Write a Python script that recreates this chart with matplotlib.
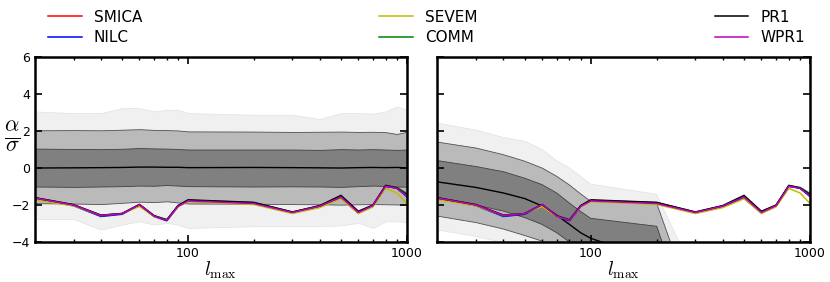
import matplotlib
matplotlib.use('Agg')
import matplotlib.pyplot as plt
from matplotlib.ticker import LogLocator, NullFormatter, FixedLocator, FuncFormatter

# l_max sampling
lmax = [20, 30, 40, 50, 60, 70, 80, 90, 100, 200, 300, 400, 500, 600, 700, 800, 900, 1000]

# alpha/sigma for each map
smica = [-1.63, -2.0, -2.55, -2.47, -1.98, -2.6, -2.83, -2.07, -1.78, -1.92, -2.4, -2.06, -1.57, -2.4, -2.03, -0.97, -1.1, -1.5]
nilc = [-1.64, -2.04, -2.62, -2.5, -1.99, -2.62, -2.85, -2.08, -1.79, -1.93, -2.42, -2.1, -1.62, -2.42, -2.05, -1.0, -1.08, -1.55]
sevem = [-1.72, -2.05, -2.57, -2.45, -2.08, -2.62, -2.8, -2.1, -1.82, -1.97, -2.46, -2.14, -1.66, -2.46, -2.1, -1.1, -1.35, -1.92]
comm = [-1.62, -2.0, -2.58, -2.47, -1.98, -2.58, -2.78, -2.05, -1.75, -1.87, -2.38, -2.05, -1.55, -2.36, -2.02, -0.95, -1.05, -1.38]
pr1 = [-1.6, -1.98, -2.55, -2.46, -1.97, -2.58, -2.82, -2.03, -1.72, -1.86, -2.38, -2.03, -1.48, -2.34, -2.0, -0.94, -1.08, -1.45]
wpr1 = [-1.62, -2.0, -2.56, -2.47, -1.98, -2.6, -2.83, -2.07, -1.78, -1.92, -2.4, -2.06, -1.57, -2.4, -2.03, -0.98, -1.1, -1.5]

series_names = ['SMICA', 'NILC', 'SEVEM', 'COMM', 'PR1', 'WPR1']
series_vals = [smica, nilc, sevem, comm, pr1, wpr1]
series_cols = ['r', 'b', 'y', 'g', 'k', 'm']

# simulation bands, left panel
l_out_hi = [3.06, 2.97, 2.97, 3.24, 3.24, 3.06, 3.15, 3.15, 2.97, 2.88, 2.88, 2.65, 2.97, 2.97, 2.94, 3.06, 3.33, 3.15]
l_mid_hi = [2.04, 2.05, 2.04, 2.07, 2.1, 2.06, 2.05, 2.03, 1.98, 1.97, 1.95, 1.96, 1.97, 1.95, 1.96, 1.94, 1.84, 1.96]
l_in_hi = [1.05, 1.03, 1.02, 1.04, 1.08, 1.06, 1.05, 1.03, 1.0, 1.0, 1.0, 0.98, 1.02, 1.0, 1.02, 1.0, 0.98, 1.0]
l_mean = [0.0, 0.01, 0.02, 0.03, 0.05, 0.05, 0.04, 0.04, 0.02, 0.03, 0.02, 0.01, 0.0, 0.02, 0.03, 0.02, 0.03, 0.01]
l_in_lo = [-1.0, -1.02, -1.0, -0.98, -0.95, -0.96, -0.92, -0.95, -0.98, -1.0, -0.99, -1.0, -1.02, -0.98, -0.95, -0.97, -1.0, -1.01]
l_mid_lo = [-1.9, -1.92, -1.95, -1.88, -1.82, -1.84, -1.8, -1.86, -1.92, -1.93, -1.95, -1.96, -1.98, -1.96, -1.95, -1.96, -1.97, -1.98]
l_out_lo = [-2.76, -2.76, -3.33, -3.06, -2.88, -3.06, -2.97, -3.06, -3.24, -3.15, -3.15, -3.15, -3.1, -2.97, -3.24, -2.88, -2.88, -2.94]

# simulation bands, right panel
r_out_hi = [2.43, 2.05, 1.65, 1.45, 1.0, 0.4, 0.0, -0.45, -0.87, -1.42, -5.9, -9.0, -11.0, -12.0, -13.0, -14.0, -15.0, -16.0]
r_mid_hi = [1.4, 1.08, 0.72, 0.37, 0.0, -0.45, -0.92, -1.4, -1.8, -1.92, -7.8, -10.5, -12.0, -13.0, -14.0, -15.0, -16.0, -17.0]
r_in_hi = [0.4, 0.08, -0.2, -0.55, -0.9, -1.35, -1.9, -2.35, -2.72, -3.15, -9.3, -11.5, -13.0, -14.0, -15.0, -16.0, -17.0, -18.0]
r_mean = [-0.75, -1.05, -1.35, -1.65, -2.05, -2.55, -3.05, -3.5, -3.8, -5.0, -11.0, -13.0, -14.0, -15.0, -16.0, -17.0, -18.0, -19.0]
r_in_lo = [-1.68, -2.0, -2.33, -2.68, -3.05, -3.5, -4.0, -4.5, -4.9, -6.8, -13.0, -14.5, -15.5, -16.5, -17.5, -18.5, -19.5, -20.5]
r_mid_lo = [-2.6, -2.95, -3.3, -3.65, -3.95, -4.4, -4.9, -5.4, -5.9, -8.0, -15.0, -16.0, -17.0, -18.0, -19.0, -20.0, -21.0, -22.0]
r_out_lo = [-3.35, -3.7, -4.05, -4.4, -4.8, -5.3, -5.8, -6.3, -6.8, -9.0, -16.0, -17.0, -18.0, -19.0, -20.0, -21.0, -22.0, -23.0]

plt.rcParams['mathtext.fontset'] = 'cm'


def panel(ax, out_hi, mid_hi, in_hi, mean, in_lo, mid_lo, out_lo, show_ylabels):
    ax.fill_between(lmax, out_lo, out_hi, facecolor='#f0f0f0', edgecolor='#e2e2e2', lw=0.5)
    ax.fill_between(lmax, mid_lo, mid_hi, facecolor='#bababa', edgecolor='#505050', lw=0.6)
    ax.fill_between(lmax, in_lo, in_hi, facecolor='#808080', edgecolor='#404040', lw=0.6)
    ax.plot(lmax, mean, color='k', lw=1.0)
    lines = []
    for name, vals, col in zip(series_names, series_vals, series_cols):
        ln, = ax.plot(lmax, vals, color=col, lw=1.1, label=name)
        lines.append(ln)
    ax.set_xscale('log')
    ax.set_xlim(20, 1000)
    ax.set_ylim(-4, 6)
    ax.yaxis.set_major_locator(FixedLocator([-4, -2, 0, 2, 4, 6]))
    ax.xaxis.set_major_locator(LogLocator(base=10))
    ax.xaxis.set_minor_locator(LogLocator(base=10, subs=range(2, 10)))
    ax.xaxis.set_minor_formatter(NullFormatter())
    ax.xaxis.set_major_formatter(FuncFormatter(lambda v, p: '%d' % v))
    ax.tick_params(which='both', direction='in', top=True, right=True, labelsize=9)
    ax.tick_params(which='major', length=5, width=1.2)
    ax.tick_params(which='minor', length=2.5, width=1.0)
    for sp in ax.spines.values():
        sp.set_linewidth(1.8)
    ax.set_xlabel(r'$l_{\max}$', fontsize=14, labelpad=0)
    if show_ylabels:
        ax.set_ylabel(r'$\frac{\alpha}{\sigma}$', fontsize=23, rotation=0, va='center', ha='center')
        ax.yaxis.set_label_coords(-0.062, 0.57)
    else:
        ax.tick_params(labelleft=False)
    return lines


fig = plt.figure(figsize=(8.3, 2.82), dpi=100)
ax1 = fig.add_axes([0.0422, 0.1418, 0.448, 0.656])
ax2 = fig.add_axes([0.527, 0.1418, 0.449, 0.656])

lines = panel(ax1, l_out_hi, l_mid_hi, l_in_hi, l_mean, l_in_lo, l_mid_lo, l_out_lo, True)
panel(ax2, r_out_hi, r_mid_hi, r_in_hi, r_mean, r_in_lo, r_mid_lo, r_out_lo, False)

fig.legend(handles=lines, labels=series_names, ncol=3, mode='expand', loc='lower left',
           bbox_to_anchor=(0.058, 0.84, 0.912, 0.16), borderaxespad=0, borderpad=0,
           frameon=False, fontsize=11, handlelength=2.2, labelspacing=0.35)

fig.savefig('out.png', dpi=100)
